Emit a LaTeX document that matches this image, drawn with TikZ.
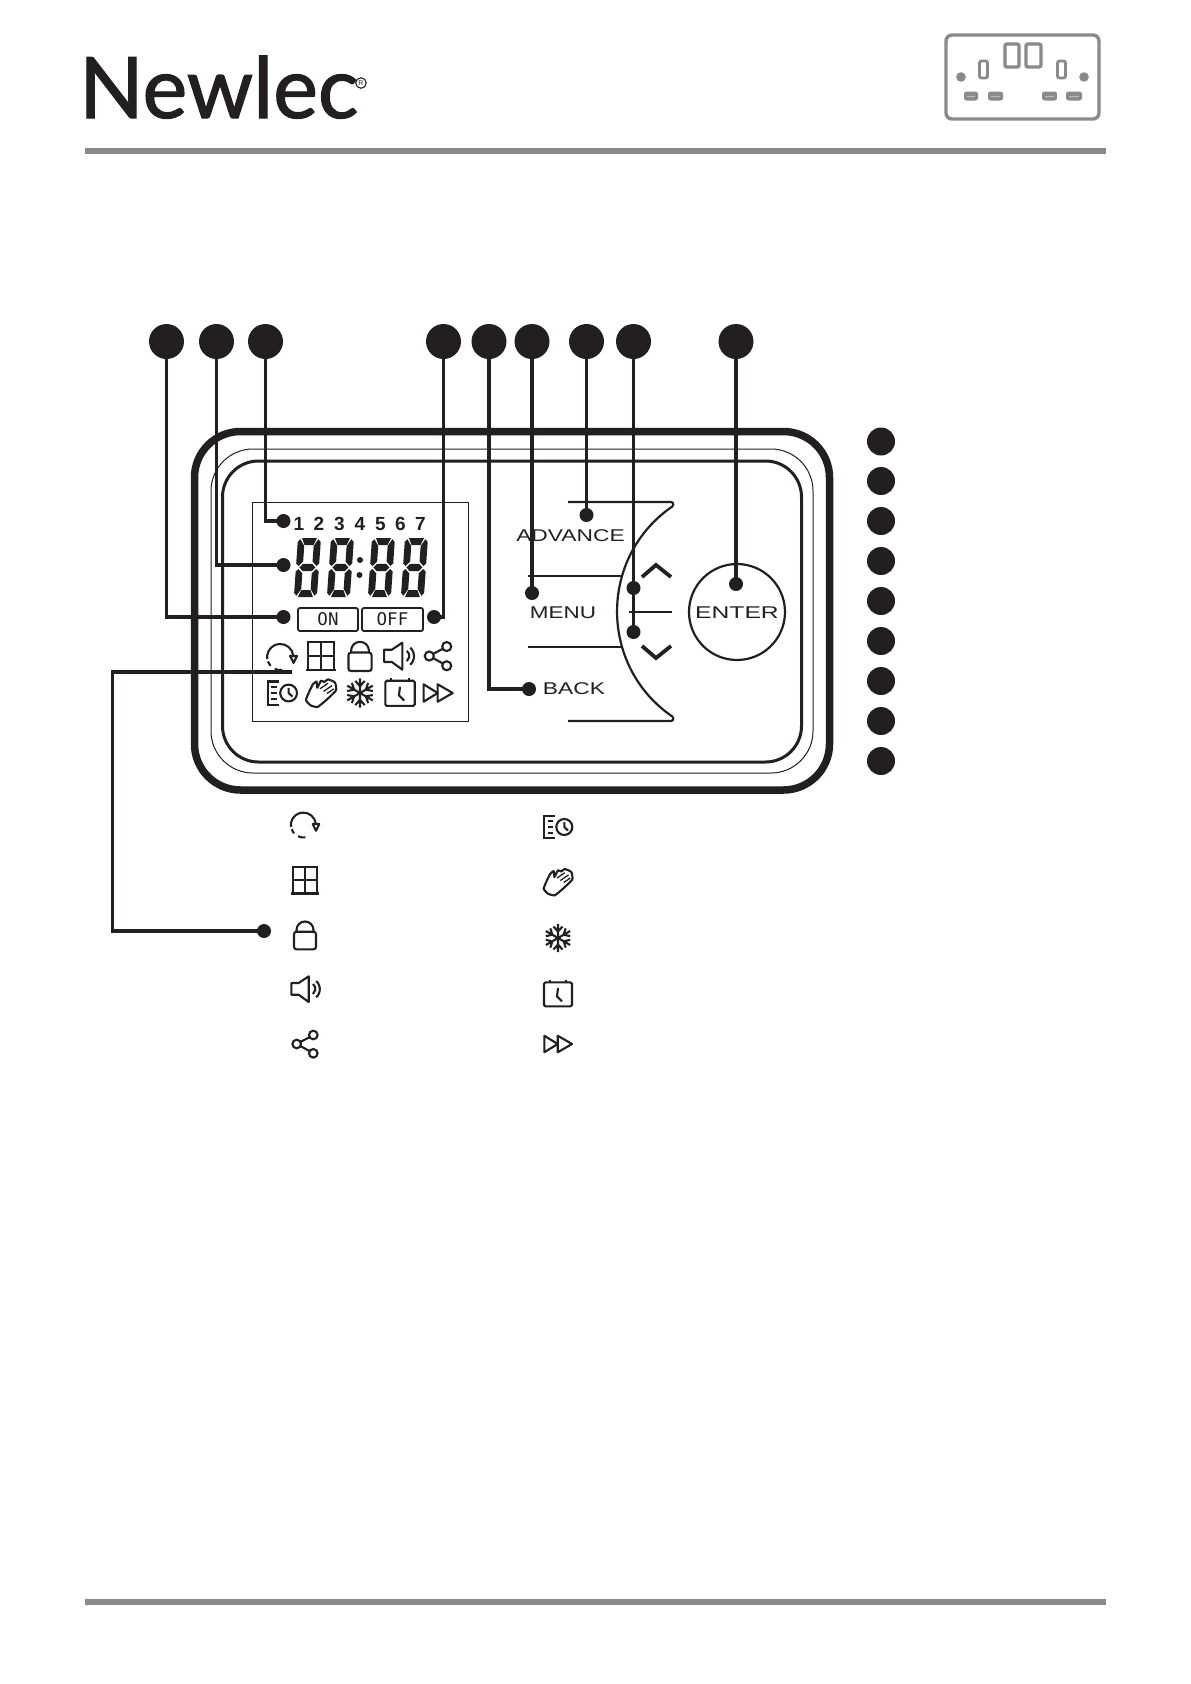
\documentclass[tikz,border=0pt]{standalone}
\usepackage{fontspec}
\setmainfont{Liberation Sans}
\newfontfamily\logofont[FakeBold=1.5]{Lato}
\newfontfamily\monofont{DejaVu Sans Mono}
\definecolor{ink}{HTML}{231F20}
\definecolor{rulegray}{HTML}{8A8A8A}
\newcommand\iconat[4]{\begin{scope}[shift={(#1,#2)},x=1pt,y=1pt,scale=#3]#4\end{scope}}
\newcommand\icRefresh{%
  \draw[icon] (10.8,1) arc[start angle=5,end angle=188,radius=12.5];
  \draw[icon] (-13.4,-4.3) arc[start angle=200,end angle=222,radius=12.5];
  \draw[icon] (-7,-11.3) arc[start angle=245,end angle=280,radius=12.5];
  \draw[icon,line join=round] (7.7,1) -- (14.3,1) -- (11,-5.7) -- cycle;}
\newcommand\icWindow{%
  \draw[icon] (-12,-13) rectangle (12,13);
  \draw[icon] (0,-13) -- (0,13) (-12,0) -- (12,0);
  \draw[icon,line width=2.6pt] (-14,-13.5) -- (14,-13.5);}
\newcommand\icLock{%
  \draw[icon,rounded corners=2.5pt] (-11,-14.3) rectangle (11,3.3);
  \draw[icon] (-8.5,3.3) -- (-8.5,5) arc[start angle=180,end angle=0,radius=8.5] -- (8.5,3.3);}
\newcommand\icSpeaker{%
  \draw[icon,line join=round] (-14.7,6) -- (-7.3,6) -- (2.7,12.7) -- (2.7,-13) -- (-7.3,-5.7) -- (-14.7,-5.7) -- cycle;
  \draw[icon] (7,5) arc[start angle=50,end angle=-50,radius=6.5];
  \draw[icon] (10.2,8) arc[start angle=48,end angle=-48,radius=11];}
\newcommand\icShare{%
  \draw[icon] (8.3,9) circle[radius=4.3] (-8.3,0) circle[radius=4.3] (8.3,-9.3) circle[radius=4.3];
  \draw[icon] (-4.5,2.1) -- (4.6,6.9) (-4.5,-2.1) -- (4.6,-7.1);}
\newcommand\icClock{%
  \draw[icon] (-3,11) -- (-13.7,11) -- (-13.7,-11) -- (-2.7,-11);
  \draw[icon] (-10.3,5.7) -- (-5,5.7) (-10.3,0) -- (-5,0) (-10.3,-6) -- (-5,-6);
  \draw[icon] (6.3,0) circle[radius=8];
  \draw[icon] (6.3,5) -- (6.3,0) -- (10,-3.5);}
\newcommand\icHand{%
  \draw[icon,line join=round] plot[smooth cycle,tension=.3] coordinates {(-14.3,-6.7) (-11,1.7) (-7.7,8.3) (-4.3,11) (-3.6,5) (0,11.7) (3.2,10.5) (6.7,13) (13.3,10) (14.3,2.5) (5,-6.7) (-3.3,-13.3) (-10,-11.7)};
  \draw[icon,line width=1.3pt] (-1,4) -- (6.7,9.3) (2.3,1.5) -- (10.5,7) (5.7,-0.5) -- (12.3,4);}
\newcommand\icSnow{%
  \foreach \a in {90,30,-30,-90,-150,150}{
    \begin{scope}[rotate=\a]
      \draw[icon] (0,0) -- (14,0) (11.5,4.5) -- (6.5,0) -- (11.5,-4.5);
    \end{scope}}}
\newcommand\icCal{%
  \draw[icon,rounded corners=1.5pt] (-14,-12.3) rectangle (14,11.7);
  \draw[icon] (-8.3,11.7) -- (-8.3,14.3) (8.3,11.7) -- (8.3,14.3);
  \draw[icon] (0,6) -- (-1,-2.3) -- (4,-7.3);}
\newcommand\icFF{%
  \draw[icon,line join=round] (-13.7,8.3) -- (-13.7,-8.3) -- (-0.3,0) -- cycle;
  \draw[icon,line join=round] (-0.3,8.3) -- (-0.3,-8.3) -- (14,0) -- cycle;}
\newcommand\segdigit[1]{%
  \begin{scope}[shift={(#1+4,538)},xslant=0.07]
    \fill[ink] (4,0) -- (19,0) -- (16,7) -- (7,7) -- cycle;
    \fill[ink] (2.5,1.2) -- (6.8,8) -- (6.8,23.5) -- (2.7,28) -- (0,25.5) -- (0,4) -- cycle;
    \fill[ink] (20.5,1.2) -- (16.2,8) -- (16.2,23.5) -- (20.3,28) -- (23,25.5) -- (23,4) -- cycle;
    \fill[ink] (7,25.8) -- (16,25.8) -- (19.5,29.5) -- (16,33.2) -- (7,33.2) -- (3.5,29.5) -- cycle;
    \fill[ink] (2.7,31) -- (6.8,35.5) -- (6.8,51) -- (2.5,57.8) -- (0,55) -- (0,33.5) -- cycle;
    \fill[ink] (20.3,31) -- (16.2,35.5) -- (16.2,51) -- (20.5,57.8) -- (23,55) -- (23,33.5) -- cycle;
    \fill[ink] (7,52) -- (16,52) -- (19,59) -- (4,59) -- cycle;
  \end{scope}}
\tikzset{
  icon/.style={draw=ink,line width=2.1pt},
  bigdot/.style={circle,fill=ink,inner sep=0pt,minimum size=35pt},
  sidedot/.style={circle,fill=ink,inner sep=0pt,minimum size=28pt},
  smalldot/.style={circle,fill=ink,inner sep=0pt,minimum size=14pt},
  leader/.style={draw=ink,line width=3.5pt,line join=miter},
  panel/.style={draw=ink,line width=2.2pt},
  btntext/.style={text=ink,inner sep=0pt,font=\fontsize{17}{17}\selectfont},
  lcdbtn/.style={draw=ink,line width=1.8pt,rounded corners=2pt,inner sep=0pt,minimum height=23pt,text=ink,font=\monofont\fontsize{17.5}{17.5}\selectfont},
  daynum/.style={text=ink,inner sep=0pt,font=\bfseries\fontsize{19}{19}\selectfont},
  sockline/.style={draw=rulegray,line width=3.4pt,rounded corners=2pt},
  pill/.style={fill=rulegray,rounded corners=2.5pt}
}
\begin{document}
\begin{tikzpicture}[x=1pt,y=-1pt]
\useasboundingbox (0,0) rectangle (1191,1684);
\fill[white] (0,0) rectangle (1191,1684);
% header
\node[anchor=base west,inner sep=0pt,text=ink] (logo) at (79,118) {\resizebox{279pt}{!}{\logofont\fontsize{82}{82}\selectfont Newlec}};
\node[circle,draw=ink,line width=1.1pt,inner sep=0pt,minimum size=10.5pt,text=ink,font=\fontsize{7}{7}\selectfont] (reg) at (361,83) {R};
\fill[rulegray] (85,148) rectangle (1106,154);
\fill[rulegray] (85,1599) rectangle (1106,1605);
% socket
\draw[sockline,rounded corners=6pt] (946,35) rectangle (1099,119);
\draw[sockline] (1005,44) rectangle (1019,67);
\draw[sockline] (1026,44) rectangle (1041,67);
\draw[sockline,line width=2.8pt] (979.5,61) rectangle (987.5,78);
\draw[sockline,line width=2.8pt] (1057.5,61) rectangle (1065.5,78);
\fill[rulegray] (961,77) circle[radius=4.8pt] (1084,77) circle[radius=4.8pt];
\foreach \x/\w in {964/14,988/15,1042/15,1066/16}{
  \fill[pill] (\x,91.5) rectangle ({\x+\w},100.5);
  \fill[rulegray!60] ({\x+3},95.5) rectangle ({\x+\w-3},96.5);
}
% device
\draw[draw=ink,line width=7.5pt,rounded corners=46pt] (194.5,431.5) rectangle (829.5,790);
\draw[draw=ink,line width=1pt,rounded corners=42pt] (211,449) rectangle (813,773);
\draw[draw=ink,line width=3pt,rounded corners=36pt] (222.5,461) rectangle (801.5,762);
% lcd
\draw[draw=ink,line width=1pt] (252.5,502) rectangle (468.5,721);
\foreach \n/\x in {1/299,2/319,3/339.5,4/360,5/380.5,6/400.5,7/420.5}{
  \node[daynum] (day\n) at (\x,524) {\n};
}
\segdigit{294}\segdigit{327}\segdigit{368}\segdigit{401}
\fill[ink] (360,560) circle[radius=3pt] (359.5,575) circle[radius=3pt];
\node[lcdbtn,minimum width=60pt] (on) at (328,619.5) {ON};
\node[lcdbtn,minimum width=61pt] (off) at (392.5,619.5) {OFF};
\iconat{282}{657}{1.05}{\icRefresh}
\iconat{321}{656}{1.05}{\icWindow}
\iconat{360}{656}{1.05}{\icLock}
\iconat{399.5}{656}{1.05}{\icSpeaker}
\iconat{438}{656}{1.05}{\icShare}
\iconat{282}{693}{1.05}{\icClock}
\iconat{321}{693}{1.05}{\icHand}
\iconat{360}{693}{1.05}{\icSnow}
\iconat{400}{693}{1.05}{\icCal}
\iconat{438}{693}{1.05}{\icFF}
% buttons
\draw[panel,line join=round,rounded corners=2.5pt] (568,502) -- (673.5,502) -- (673,506);
\draw[panel] (673,506) .. controls (598.4,556.5) and (598.4,666.5) .. (673,717);
\draw[panel,line join=round,rounded corners=2.5pt] (673,717) -- (673.5,721) -- (568,721);
\draw[panel] (528,576) -- (621,576) (528,647) -- (621,647) (629,612) -- (672,612);
\draw[draw=ink,line width=3.8pt] (642,577) -- (656,565) -- (671,577);
\draw[draw=ink,line width=3.8pt] (642,646) -- (656,658) -- (671,646);
\node[circle,panel,inner sep=0pt,minimum size=96pt] (enterbtn) at (737,612) {};
\node[btntext] (advance) at (570.5,535.5) {\scalebox{1.34}[1]{ADVANCE}};
\node[btntext] (menu) at (563,612.5) {\scalebox{1.32}[1]{MENU}};
\node[btntext] (back) at (574,688.5) {\scalebox{1.34}[1]{BACK}};
\node[btntext] (enter) at (737,612.5) {\scalebox{1.45}[1]{ENTER}};
% legend icons
\iconat{305}{825}{1}{\icRefresh}
\iconat{305}{880}{1}{\icWindow}
\iconat{305}{935}{1}{\icLock}
\iconat{306}{989}{1}{\icSpeaker}
\iconat{305}{1044}{1}{\icShare}
\iconat{558}{827}{1}{\icClock}
\iconat{558}{882}{1}{\icHand}
\iconat{558}{938}{1}{\icSnow}
\iconat{558}{994}{1}{\icCal}
\iconat{558}{1044}{1}{\icFF}
% callouts
\foreach \n/\x in {1/166.5,2/216.5,3/265.5,4/443.5,5/489,6/532,7/586.5,8/633.5,9/736}{
  \node[bigdot] (c\n) at (\x,341.5) {};
}
\foreach \n/\y in {1/441.5,2/481,3/521,4/561,5/601,6/641,7/681,8/721,9/761}{
  \node[sidedot] (r\n) at (881,\y) {};
}
\node[smalldot] (d1) at (283.5,617) {};
\node[smalldot] (d2) at (283.5,565) {};
\node[smalldot] (d3) at (283.5,521) {};
\node[smalldot] (d4) at (434,617) {};
\node[smalldot] (d5) at (529,689) {};
\node[smalldot] (d6) at (532,593) {};
\node[smalldot] (d7) at (586.5,515) {};
\node[smalldot] (d8a) at (633.5,588) {};
\node[smalldot] (d8b) at (633.5,632) {};
\node[smalldot] (d9) at (736,584) {};
\node[smalldot] (d10) at (264,931) {};
\coordinate (lcdend) at (292,672);
\coordinate (lbend) at (112.5,931);
\draw[leader] (c1.center) |- (d1.center);
\draw[leader] (c2.center) |- (d2.center);
\draw[leader] (c3.center) |- (d3.center);
\draw[leader] (c4.center) |- (d4.center);
\draw[leader] (c5.center) |- (d5.center);
\draw[leader] (c6.center) -- (d6.center);
\draw[leader] (c7.center) -- (d7.center);
\draw[leader] (c8.center) -- (d8b.center);
\draw[leader] (c9.center) -- (d9.center);
\draw[leader] (d10.center) -- (lbend) |- (lcdend);
\end{tikzpicture}
\end{document}
